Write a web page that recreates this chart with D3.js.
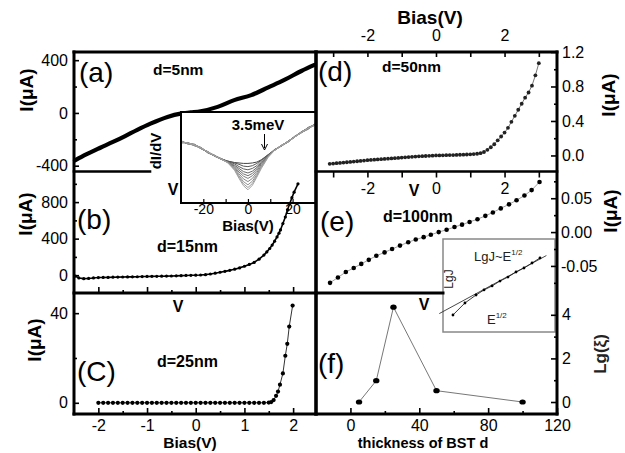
<!DOCTYPE html>
<html><head><meta charset="utf-8">
<script src="https://cdn.jsdelivr.net/npm/d3@7/dist/d3.min.js"></script>
<style>
body{margin:0;background:#fff;}
svg{display:block;font-family:"Liberation Sans",Arial,sans-serif;}
</style></head><body>
<svg id="c" width="625" height="453"></svg>
<script>
// ---------------- DATA ----------------
// (a) d=5nm
const biasA = [-2.48,-2.25,-1.96,-1.7,-1.45,-1.2,-0.93,-0.58,-0.31,-0.1,0.1,0.45,0.79,1.14,1.49,1.82,2.17,2.44];
const currA = [-360,-315,-264,-220,-175,-128,-81,-30,-5,4,13,46,97,135,194,250,318,364];
// (b) d=15nm
const biasB = [-2.47,-2.4,-2.3,-2.2,-2.1,-2.0,-1.9,-1.8,-1.7,-1.6,-1.5,-1.4,-1.3,-1.2,-1.1,-1.0,-0.9,-0.8,-0.7,-0.6,-0.5,-0.4,-0.3,-0.2,-0.1,0.0,0.1,0.2,0.3,0.4,0.5,0.6,0.7,0.8,0.9,1.0,1.1,1.2,1.3,1.4,1.46,1.52,1.57,1.62,1.67,1.71,1.74,1.79,1.84,1.885,1.93,1.975,2.02,2.1];
const currB = [-10,-30,-38,-36,-30,-26,-25,-24,-22,-21,-20,-19,-18,-17,-15,-14,-13,-12,-11,-10,-9,-7,-5,-3,-1,0,2,6,13,22,32,42,53,66,80,98,118,140,175,220,255,292,330,372,419,460,495,565,637,717,783,848,909,1000];
// (c) d=25nm
const biasC = [-2.0,-1.9,-1.8,-1.7,-1.6,-1.5,-1.4,-1.3,-1.2,-1.1,-1.0,-0.9,-0.8,-0.7,-0.6,-0.5,-0.4,-0.3,-0.2,-0.1,0.0,0.1,0.2,0.3,0.4,0.5,0.6,0.7,0.8,0.9,1.0,1.1,1.2,1.3,1.4,1.5,1.55,1.6,1.65,1.69,1.73,1.79,1.84,1.88,1.92,1.99];
const currC = [0,0,0,0,0,0,0,0,0,0,0,0,0,0,0,0,0,0,0,0,0,0,0,0,0,0,0,0,0,0,0,0,0,0,0,0.1,0.3,1.2,3.1,5.0,8.1,13.1,21,26.3,34,43.4];
// (d) d=50nm
const biasD = [-3.1,-3.0,-2.9,-2.8,-2.7,-2.6,-2.5,-2.4,-2.3,-2.2,-2.1,-2.0,-1.9,-1.8,-1.7,-1.6,-1.5,-1.4,-1.3,-1.2,-1.1,-1.0,-0.9,-0.8,-0.7,-0.6,-0.5,-0.4,-0.3,-0.2,-0.1,0.0,0.1,0.2,0.3,0.4,0.5,0.6,0.7,0.8,0.9,1.0,1.1,1.2,1.3,1.4,1.5,1.6,1.7,1.8,1.9,2.0,2.1,2.2,2.3,2.4,2.5,2.6,2.7,2.8,2.9,3.0];
const currD = [-0.097,-0.094,-0.090,-0.087,-0.083,-0.079,-0.075,-0.071,-0.067,-0.063,-0.059,-0.055,-0.052,-0.049,-0.046,-0.043,-0.040,-0.037,-0.034,-0.031,-0.028,-0.025,-0.022,-0.019,-0.016,-0.013,-0.010,-0.008,-0.006,-0.004,-0.002,0.000,0.001,0.002,0.003,0.004,0.005,0.006,0.008,0.009,0.011,0.013,0.016,0.020,0.027,0.040,0.065,0.095,0.13,0.175,0.22,0.265,0.32,0.39,0.46,0.53,0.60,0.67,0.73,0.81,0.93,1.07];
// (e) d=100nm
const biasE = [-3.09,-2.86,-2.63,-2.40,-2.18,-1.96,-1.74,-1.50,-1.28,-1.05,-0.81,-0.59,-0.36,-0.15,0.08,0.31,0.54,0.76,0.98,1.21,1.44,1.66,1.89,2.13,2.35,2.58,2.79,3.02];
const currE = [-0.075,-0.067,-0.059,-0.053,-0.047,-0.041,-0.035,-0.030,-0.025,-0.020,-0.015,-0.011,-0.0075,-0.004,0.000,0.0035,0.0075,0.011,0.015,0.019,0.024,0.029,0.035,0.041,0.047,0.054,0.062,0.074];
// (f) Lg(xi) vs thickness
const thickF = [5,15,25,50,100];
const lgXiF  = [0,0.98,4.35,0.52,0.0];
// (a) inset: dI/dV curves (arb. units)
const didvBias = [-30,-27,-24,-21,-18,-15,-12,-9,-6,-4,-2,0,2,4,6,9,12,15,18,21,24,27,30];
const didv1  = [6.8,6.5,6.45,6.0,5.65,5.15,4.85,4.6,4.45,4.4,4.35,4.35,4.4,4.5,4.75,5.3,5.8,6.3,6.7,7.3,7.75,8.3,8.55];
const didv2  = [6.6,6.65,6.3,6.1,5.55,5.25,4.8,4.6,4.4,4.25,4.05,4.0,4.1,4.35,4.7,5.25,5.9,6.25,6.8,7.25,7.85,8.2,8.65];
const didv3  = [6.75,6.55,6.4,5.95,5.6,5.2,4.9,4.55,4.3,4.0,3.75,3.65,3.8,4.1,4.6,5.3,5.85,6.35,6.75,7.35,7.8,8.25,8.6];
const didv4  = [6.7,6.6,6.35,6.05,5.5,5.2,4.85,4.5,4.15,3.8,3.45,3.3,3.5,3.9,4.45,5.2,5.8,6.3,6.8,7.3,7.75,8.1,8.7];
const didv5  = [6.85,6.5,6.4,6.0,5.6,5.15,4.8,4.5,4.05,3.6,3.2,3.0,3.25,3.75,4.35,5.2,5.85,6.25,6.7,7.25,7.8,8.25,8.6];
const didv6  = [6.65,6.6,6.45,6.05,5.6,5.25,4.85,4.5,3.95,3.4,2.95,2.7,3.0,3.55,4.25,5.15,5.8,6.3,6.75,7.3,7.7,8.2,8.55];
const didv7  = [6.75,6.55,6.3,6.0,5.55,5.2,4.8,4.45,3.85,3.2,2.65,2.35,2.7,3.35,4.1,5.1,5.85,6.3,6.7,7.25,7.8,8.3,8.65];
const didv8  = [6.7,6.6,6.4,6.1,5.6,5.15,4.85,4.45,3.75,3.0,2.35,2.0,2.4,3.15,4.0,5.1,5.8,6.35,6.75,7.3,7.75,8.2,8.6];
const didv9  = [6.8,6.55,6.35,6.0,5.65,5.2,4.8,4.45,3.65,2.85,2.1,1.7,2.15,3.0,3.9,5.05,5.85,6.3,6.7,7.3,7.8,8.25,8.55];
const didv10 = [6.7,6.6,6.4,6.05,5.6,5.2,4.85,4.4,3.6,2.7,1.9,1.45,1.95,2.85,3.8,5.0,5.8,6.3,6.75,7.25,7.75,8.2,8.6];
const didvCurves = [didv1,didv2,didv3,didv4,didv5,didv6,didv7,didv8,didv9,didv10];
// (e) inset: LgJ ~ E^1/2 (arb. units)
const sqrtE = [0.89,1.96,2.95,3.66,4.38,5.09,5.8,6.52,7.23,7.95,8.66];
const lgJ   = [1.83,3.12,3.98,4.52,4.95,5.48,5.91,6.45,6.88,7.42,7.96];
const fitSqrtE = [-0.3,9.2];
const fitLgJ   = [2.0,8.2];
// tick values
const ticksA = [-400,0,400], minorA = [-200,200];
const ticksB = [0,400,800], minorB = [200,600,1000];
const ticksC = [0,40], minorC = [20];
const ticksBias = [-2,-1,0,1,2], minorBias = [-1.5,-0.5,0.5,1.5];
const ticksBiasR = [-3,-2,-1,0,1,2,3], labelsBiasR = [-2,0,2];
const ticksD = [0,0.4,0.8,1.2], minorD = [0.2,0.6,1.0];
const ticksE = [-0.05,0,0.05], minorE = [-0.075,-0.025,0.025,0.075];
const ticksF = [0,40,80,120], minorF = [20,60,100];
const ticksFy = [0,2,4], minorFy = [1,3];
const ticksInset = [-20,-10,0,10,20], labelsInset = [-20,0,20];

// ---------------- LAYOUT ----------------
const svg = d3.select("#c");
svg.append("rect").attr("width",625).attr("height",453).attr("fill","#fff");
const L=74, M=316, R=557, T=52, Y1=171.5, Y2=293, B=414;

const xL = d3.scaleLinear([-2.5,2.47],[L,M]);
const xR = d3.scaleLinear([-3.5,3.53],[M,R]);
const yA = d3.scaleLinear([-444,462],[Y1,T]);
const yB = d3.scaleLinear([-195,1135],[Y2,Y1]);
const yC = d3.scaleLinear([-5,49],[B,Y2]);
const yD = d3.scaleLinear([-0.186,1.2],[Y1,T]);
const yE = d3.scaleLinear([-0.090,0.0895],[Y2,Y1]);
const xF = d3.scaleLinear([-20,120],[M,R]);
const yF = d3.scaleLinear([-0.55,5.0],[B,Y2]);
const xI = d3.scaleLinear([-30,30.5],[181,316]);
const yI = d3.scaleLinear([0,10],[203,112]);
const xJ = d3.scaleLinear([0,10],[443,555]);
const yJ = d3.scaleLinear([0,10],[332,239]);

const FONT = '"Liberation Sans",Arial,sans-serif';
function txt(x,y,s,o={}){
  const t = svg.append("text").attr("x",x).attr("y",y)
    .attr("font-size",o.size||16).attr("font-weight",o.weight||"normal")
    .attr("text-anchor",o.anchor||"start").attr("fill",o.fill||"#000")
    .attr("font-family",FONT).text(s);
  if(o.rot!==undefined) t.attr("transform",`rotate(${o.rot},${x},${y})`);
  return t;
}
function axis(parentSel, tr, gen, scale, vals, size, pad, fmt, fs, sw){
  const g = parentSel.append("g").attr("transform",tr);
  g.call(gen(scale).tickValues(vals).tickSize(size).tickPadding(pad).tickFormat(fmt||(()=>"")));
  g.select(".domain").remove();
  g.attr("font-family",FONT).attr("font-size",fs||16);
  g.selectAll("line").attr("stroke","#000").attr("stroke-width",sw||1.6);
  g.selectAll("text").attr("fill","#000");
  return g;
}
const num = d => (d<0?"-":"")+Math.abs(d);
function series(g, xs, ys, sx, sy, o){
  const idx = d3.range(xs.length);
  const line = d3.line().x(i=>sx(xs[i])).y(i=>sy(ys[i]));
  if(o.curve) line.curve(o.curve);
  if(o.lw) g.append("path").attr("d",line(idx)).attr("fill","none")
      .attr("stroke",o.lc||"#000").attr("stroke-width",o.lw).attr("stroke-linejoin","round").attr("stroke-linecap","round");
  if(o.r) g.selectAll(null).data(idx).enter().append("circle")
      .attr("cx",i=>sx(xs[i])).attr("cy",i=>sy(ys[i])).attr("r",o.r)
      .attr("fill",o.fc||"#000");
}

// ---------------- PANEL DATA ----------------
const gData = svg.append("g");
series(gData, biasA, currA, xL, yA, {lw:4.2, curve:d3.curveMonotoneX});
series(gData, biasC, currC, xL, yC, {lw:1, lc:"#333", r:2.1});
series(gData, biasD, currD, xR, yD, {lw:1, lc:"#777", r:1.9, fc:"#222"});
series(gData, biasE, currE, xR, yE, {lw:0.8, lc:"#888", r:2.3, fc:"#000"});
series(gData, thickF, lgXiF, xF, yF, {lw:1, lc:"#777"});
gData.selectAll(null).data(d3.range(thickF.length)).enter().append("ellipse")
  .attr("cx",i=>xF(thickF[i])).attr("cy",i=>yF(lgXiF[i])).attr("rx",3.2).attr("ry",2.6).attr("fill","#000");

// ---------------- INSET (a) ----------------
const gIa = svg.append("g");
gIa.append("clipPath").attr("id","clipIa").append("rect").attr("x",181).attr("y",112).attr("width",135).attr("height",91);
gIa.append("rect").attr("x",181).attr("y",112).attr("width",135).attr("height",91).attr("fill","#fff");
const gIaC = gIa.append("g").attr("clip-path","url(#clipIa)");
const grays = ["#444","#555","#5f5f5f","#696969","#737373","#7d7d7d","#878787","#919191","#9b9b9b","#a3a3a3"];
didvCurves.forEach((c,k)=>{
  series(gIaC, didvBias, c, xI, yI, {lw:1, lc:grays[k], curve:d3.curveLinear});
});
axis(gIa, "translate(0,203)", d3.axisBottom, xI, ticksInset, -4, 1,
     d=>labelsInset.includes(d)?num(d):"", 14, 1.2);
gIa.append("rect").attr("x",181).attr("y",112).attr("width",135).attr("height",91)
  .attr("fill","none").attr("stroke","#000").attr("stroke-width",2);
gIa.append("line").attr("x1",264.5).attr("y1",134).attr("x2",264.5).attr("y2",148).attr("stroke","#000").attr("stroke-width",1);
gIa.append("path").attr("d","M261.5,144 L264.5,150 L267.5,144").attr("fill","none").attr("stroke","#000").attr("stroke-width",1);

// ---------------- INSET (e) ----------------
const gIe = svg.append("g");
gIe.append("rect").attr("x",443).attr("y",239).attr("width",112).attr("height",93).attr("fill","#fff")
  .attr("stroke","#888").attr("stroke-width",1.5);
series(gIe, fitSqrtE, fitLgJ, xJ, yJ, {lw:0.9, lc:"#333"});
series(gIe, sqrtE, lgJ, xJ, yJ, {lw:0.9, lc:"#222", r:1.4, fc:"#000"});

// ---------------- (b) data (drawn over inset) ----------------
series(svg.append("g"), biasB, currB, xL, yB, {lw:1.6, lc:"#000", r:1.6});

// ---------------- AXES / TICKS ----------------
axis(svg, `translate(${L},0)`, d3.axisLeft, yA, ticksA, -5, 6, num);
axis(svg, `translate(${L},0)`, d3.axisLeft, yA, minorA, -3, 6);
axis(svg, `translate(${L},0)`, d3.axisLeft, yB, ticksB, -5, 6, num);
axis(svg, `translate(${L},0)`, d3.axisLeft, yB, minorB, -3, 6);
axis(svg, `translate(0,${Y2})`, d3.axisBottom, xL, ticksBias, -6, 6);
axis(svg, `translate(0,${Y2})`, d3.axisBottom, xL, minorBias, -3, 6);
axis(svg, `translate(${L},0)`, d3.axisLeft, yC, ticksC, -5, 6, num);
axis(svg, `translate(${L},0)`, d3.axisLeft, yC, minorC, -3, 6);
axis(svg, `translate(0,${B})`, d3.axisBottom, xL, ticksBias, -6, 6, num);
axis(svg, `translate(0,${B})`, d3.axisBottom, xL, minorBias, -3, 6);
axis(svg, `translate(0,${T})`, d3.axisTop, xR, ticksBiasR, -5, 11, d=>labelsBiasR.includes(d)?num(d):"");
axis(svg, `translate(${R},0)`, d3.axisRight, yD, ticksD, -6, 5, d=>d.toFixed(1));
axis(svg, `translate(${R},0)`, d3.axisRight, yD, minorD, -3, 5);
axis(svg, `translate(0,${Y1})`, d3.axisBottom, xR, ticksBiasR, 6, 5, d=>labelsBiasR.includes(d)?num(d):"");
axis(svg, `translate(${R},0)`, d3.axisRight, yE, ticksE, -6, 4, d=>(d<0?"-":"")+Math.abs(d).toFixed(2));
axis(svg, `translate(${R},0)`, d3.axisRight, yE, minorE, -3, 4);
axis(svg, `translate(0,${B})`, d3.axisBottom, xF, ticksF, -6, 6, num);
axis(svg, `translate(0,${B})`, d3.axisBottom, xF, minorF, -3, 6);
axis(svg, `translate(${R},0)`, d3.axisRight, yF, ticksFy, -6, 5, num);
axis(svg, `translate(${R},0)`, d3.axisRight, yF, minorFy, -3, 5);

// ---------------- FRAMES ----------------
const frame = [
  [L,T,R,T,3],[L,T,L,B,3],[R,T,R,B,3],[L,B,R,B,3],[M,T,M,B,3.6],
  [L,Y1,150,Y1,2.6],[L,Y2,M,Y2,3],[M,Y1,R,Y1,2.6],[M,Y2,443,Y2,3]
];
svg.append("g").selectAll("line").data(frame).enter().append("line")
  .attr("x1",d=>d[0]).attr("y1",d=>d[1]).attr("x2",d=>d[2]).attr("y2",d=>d[3])
  .attr("stroke","#000").attr("stroke-width",d=>d[4]).attr("stroke-linecap","square");

// ---------------- TEXT ----------------
txt(79,82,"(a)",{size:28});
txt(77,229,"(b)",{size:28});
txt(77,381,"(C)",{size:28});
txt(318,81,"(d)",{size:28});
txt(320,231,"(e)",{size:28});
txt(318,373,"(f)",{size:28});

txt(153,75,"d=5nm",{size:15.5,weight:"bold"});
txt(157,252,"d=15nm",{size:16,weight:"bold"});
txt(157,367,"d=25nm",{size:16,weight:"bold"});
txt(382,72,"d=50nm",{size:15.5,weight:"bold"});
txt(383,222,"d=100nm",{size:16,weight:"bold"});

txt(33,90,"I(μA)",{size:19,weight:"bold",anchor:"middle",rot:-90});
txt(32,214,"I(μA)",{size:19,weight:"bold",anchor:"middle",rot:-90});
txt(41,340,"I(μA)",{size:19,weight:"bold",anchor:"middle",rot:-90});
txt(615,95,"I(μA)",{size:19,weight:"bold",anchor:"middle",rot:-90});
txt(617,211,"I(μA)",{size:19,weight:"bold",anchor:"middle",rot:-90});
txt(606,354,"Lg(ξ)",{size:17,weight:"bold",anchor:"middle",rot:-90,fill:"#222"});

txt(430,24,"Bias(V)",{size:19,weight:"bold",anchor:"middle"});
txt(190,448,"Bias(V)",{size:15.5,weight:"bold",anchor:"middle"});
txt(423,448,"thickness of BST d",{size:14.5,weight:"bold",anchor:"middle"});

txt(248,231,"Bias(V)",{size:15,weight:"bold",anchor:"middle"});
txt(258,130,"3.5meV",{size:15,weight:"bold",anchor:"middle"});
txt(161,151,"dI/dV",{size:15,weight:"bold",anchor:"middle",rot:-90});

txt(173,195,"V",{size:16,weight:"bold",anchor:"middle"});
txt(178,312,"V",{size:16,weight:"bold",anchor:"middle"});
txt(414,196,"V",{size:16,weight:"bold",anchor:"middle"});
txt(424,310,"V",{size:16,weight:"bold",anchor:"middle"});

const t1 = txt(474,261,"LgJ~E",{size:13,fill:"#222"});
t1.append("tspan").attr("dy",-6).attr("font-size",8).text("1/2");
const t2 = txt(487,324,"E",{size:13,fill:"#222"});
t2.append("tspan").attr("dy",-6).attr("font-size",8).text("1/2");
txt(453,279,"LgJ",{size:12,anchor:"middle",rot:-90,fill:"#222"});
</script>
</body></html>
